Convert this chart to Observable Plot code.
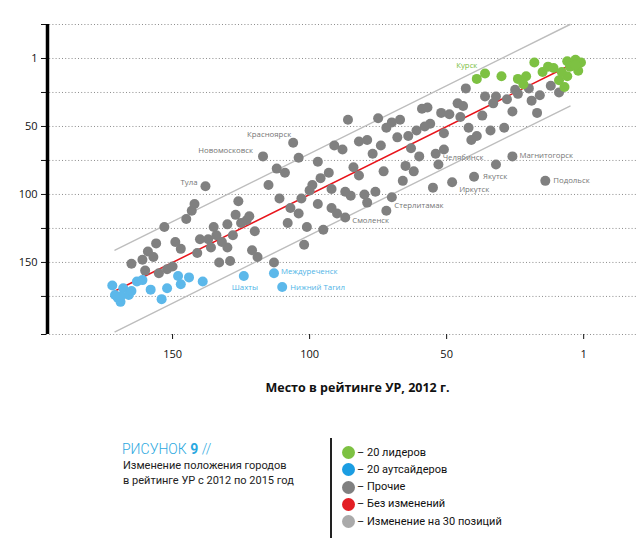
<!DOCTYPE html>
<html><head><meta charset="utf-8">
<script src="https://cdn.jsdelivr.net/npm/d3@7"></script>
<script src="https://cdn.jsdelivr.net/npm/@observablehq/plot@0.6"></script>
<style>
body{margin:0;background:#fff;}
#wrap{position:relative;width:640px;height:543px;overflow:hidden;background:#fff}
#chart{position:absolute;left:0;top:0}
#legend{position:absolute;left:0;top:420px;width:640px;height:123px;font-family:Roboto,sans-serif}
.abs{position:absolute;white-space:nowrap}
</style></head><body>
<div id="wrap"><div id="chart"></div><div id="legend"></div></div>
<script>
// [rank 2012, rank 2015]
const leaders = [[39,15],[36,11],[30,13],[24,15],[21,13],[22,19],[18,3],[15,10],[13,6],[11,7],[9,16],[6,13],[7,21],[6,2],[5,6],[3,1],[1,3],[2,9],[8,10],[3,5]];
const outsiders = [[172,167],[171,174],[170,176],[169,179],[168,169],[166,174],[165,171],[163,164],[161,163],[158,170],[154,177],[152,169],[148,160],[147,166],[144,161],[139,164],[124,160],[113,158],[110,168],[169,175]];
const others = [[165,151],[161,148],[160,156],[159,142],[157,146],[156,136],[155,158],[153,124],[152,155],[150,153],[149,135],[147,140],[145,118],[143,112],[142,107],[138,94],[141,143],[140,133],[137,133],[136,139],[135,124],[134,130],[133,150],[132,135],[130,139],[130,122],[129,149],[128,130],[127,115],[126,105],[125,121],[123,119],[122,116],[121,141],[120,127],[119,146],[113,150],[115,93],[112,81],[109,84],[111,103],[108,121],[107,110],[104,114],[103,103],[101,124],[102,137],[100,97],[99,93],[97,107],[117,72],[106,62],[104,73],[97,76],[96,88],[86,45],[75,44],[91,64],[88,67],[82,61],[79,60],[77,70],[74,64],[72,51],[70,47],[68,58],[67,45],[64,57],[61,53],[59,37],[57,36],[58,50],[56,48],[52,40],[49,41],[46,33],[45,43],[51,55],[63,66],[60,72],[54,70],[51,67],[53,78],[48,91],[55,95],[65,79],[62,83],[66,90],[73,83],[84,80],[82,86],[93,84],[92,96],[87,98],[85,101],[80,100],[76,98],[79,106],[70,102],[72,112],[92,110],[90,114],[87,117],[95,126],[43,22],[25,23],[24,26],[20,22],[16,27],[12,20],[9,25],[19,31],[17,40],[26,39],[28,30],[32,28],[33,33],[36,28],[37,42],[44,35],[42,51],[39,57],[41,60],[34,53],[29,51],[26,72],[32,78],[40,87],[14,90]];
// labelled cities: [name, group, rank 2012, rank 2015]
const cities = [["Курск","leader",39,15],["Красноярск","other",106,62],["Новомосковск","other",117,72],["Тула","other",138,94],["Челябинск","other",54,70],["Магнитогорск","other",26,72],["Якутск","other",40,87],["Подольск","other",14,90],["Иркутск","other",48,91],["Стерлитамак","other",72,112],["Смоленск","other",87,117],["Шахты","outsider",124,160],["Междуреченск","outsider",113,158],["Нижний Тагил","outsider",110,168]];
const lineSpan = [171, 5];         // 2012 ranks covered by reference lines
const shifts = [-30, 30];          // ±30 positions
const tickValues = [0, 50, 100, 150];
const tickLabels = ["1", "50", "100", "150"];
const gridY = [-25, 0, 25, 50, 75, 100, 125, 150, 175, 203];
const xTitle = "Место в рейтинге УР, 2012 г.";
const captionTitle = "РИСУНОК";
const captionNum = "9";
const captionLines = ["Изменение положения городов", "в рейтинге УР с 2012 по 2015 год"];
const legendLabels = ["– 20 лидеров", "– 20 аутсайдеров", "– Прочие", "– Без изменений", "– Изменение на 30 позиций"];
const legendColors = ["#7dc142", "#1b9de2", "#808080", "#e31e24", "#aaaaaa"];

const colors = {leader:"#7dc142", outsider:"#5cb8ea", other:"#808080"};
const textColors = {leader:"#7dc142", outsider:"#4db3e6", other:"#757575"};
const fmt = d => { const i = tickValues.indexOf(d); return i >= 0 ? tickLabels[i] : ""; };
const labelStyle = {
  "Курск":{a:"middle",dx:-10,dy:-13}, "Красноярск":{a:"end",dx:-2,dy:-8},
  "Новомосковск":{a:"end",dx:-10,dy:-6}, "Тула":{a:"end",dx:-8,dy:-4},
  "Челябинск":{a:"start",dx:7,dy:4}, "Магнитогорск":{a:"start",dx:7,dy:-1},
  "Якутск":{a:"start",dx:9,dy:0}, "Подольск":{a:"start",dx:8,dy:0},
  "Иркутск":{a:"start",dx:7,dy:7}, "Стерлитамак":{a:"start",dx:8,dy:-5},
  "Смоленск":{a:"start",dx:7,dy:3}, "Шахты":{a:"middle",dx:1,dy:11},
  "Междуреченск":{a:"start",dx:7,dy:-2}, "Нижний Тагил":{a:"start",dx:8,dy:1}
};
const line = s => lineSpan.map(r => ({x: r, y: r + s}));

const chart = Plot.plot({
  width: 640, height: 420,
  marginTop: 24, marginBottom: 86, marginLeft: 46, marginRight: 2,
  style: {fontFamily: '"Open Sans", sans-serif', background: "#fff", overflow: "visible"},
  x: {domain: [196, -20]},
  y: {domain: [-25, 203], reverse: true},
  marks: [
    Plot.ruleY(gridY, {x1: 196, x2: -20, stroke: "#8c8c8c", strokeDasharray: "1,2.2", strokeWidth: 1}),
    Plot.axisY(gridY, {tickSize: 5, tickPadding: 4, tickFormat: fmt, fontSize: 11, fill: "#111", stroke: "#111", label: null}),
    Plot.axisX(tickValues, {tickSize: 5, tickPadding: 11, tickFormat: fmt, fontSize: 11, fill: "#111", stroke: "#111", label: null}),
    Plot.ruleX([196], {y1: -25, y2: 203, stroke: "#000", strokeWidth: 3.5, dx: 1}),
    ...shifts.map(s => Plot.line(line(s), {x: "x", y: "y", stroke: "#bdbdbd", strokeWidth: 1.4})),
    Plot.line(line(0), {x: "x", y: "y", stroke: "#e8141b", strokeWidth: 1.5}),
    Plot.dot(others, {x: d => d[0], y: d => d[1], r: 5, fill: colors.other}),
    Plot.dot(leaders, {x: d => d[0], y: d => d[1], r: 5, fill: colors.leader}),
    Plot.dot(outsiders, {x: d => d[0], y: d => d[1], r: 5, fill: colors.outsider}),
    ...cities.map(c => { const st = labelStyle[c[0]]; return Plot.text([c], {x: d => d[2], y: d => d[3], text: d => d[0], textAnchor: st.a, dx: st.dx, dy: st.dy, fill: textColors[c[1]], fontSize: 7.8, lineAnchor: "middle"}); }),
    Plot.text([xTitle], {frameAnchor: "bottom", lineAnchor: "middle", dy: 53, dx: 15, text: d => d, fontWeight: "bold", fontSize: 12.5, fill: "#111"})
  ]
});
document.getElementById("chart").appendChild(chart);

const lg = document.getElementById("legend");
function add(html, style){ const d = document.createElement("div"); d.className = "abs"; d.innerHTML = html; Object.assign(d.style, style); lg.appendChild(d); return d; }
add(`<span style="font-weight:300">${captionTitle}</span> <b>${captionNum}</b> <span style="font-weight:300">//</span>`, {left:"122px", top:"19px", fontSize:"14px", lineHeight:"20px", color:"#2aa8e0"});
captionLines.forEach((t,i) => add(t, {left:"123px", top:(38 + i*15.3)+"px", fontSize:"11px", lineHeight:"15px", color:"#222"}));
add("", {left:"330px", top:"18px", width:"1.5px", height:"100px", background:"#222"});
legendLabels.forEach((t,i) => {
  const cy = 32.7 + i*17.25;
  add("", {left:(348-6.5)+"px", top:(cy-6.5)+"px", width:"13px", height:"13px", borderRadius:"50%", background:legendColors[i]});
  add(t, {left:"357px", top:(cy-8)+"px", fontSize:"11px", lineHeight:"16px", color:"#111"});
});
</script>
</body></html>
